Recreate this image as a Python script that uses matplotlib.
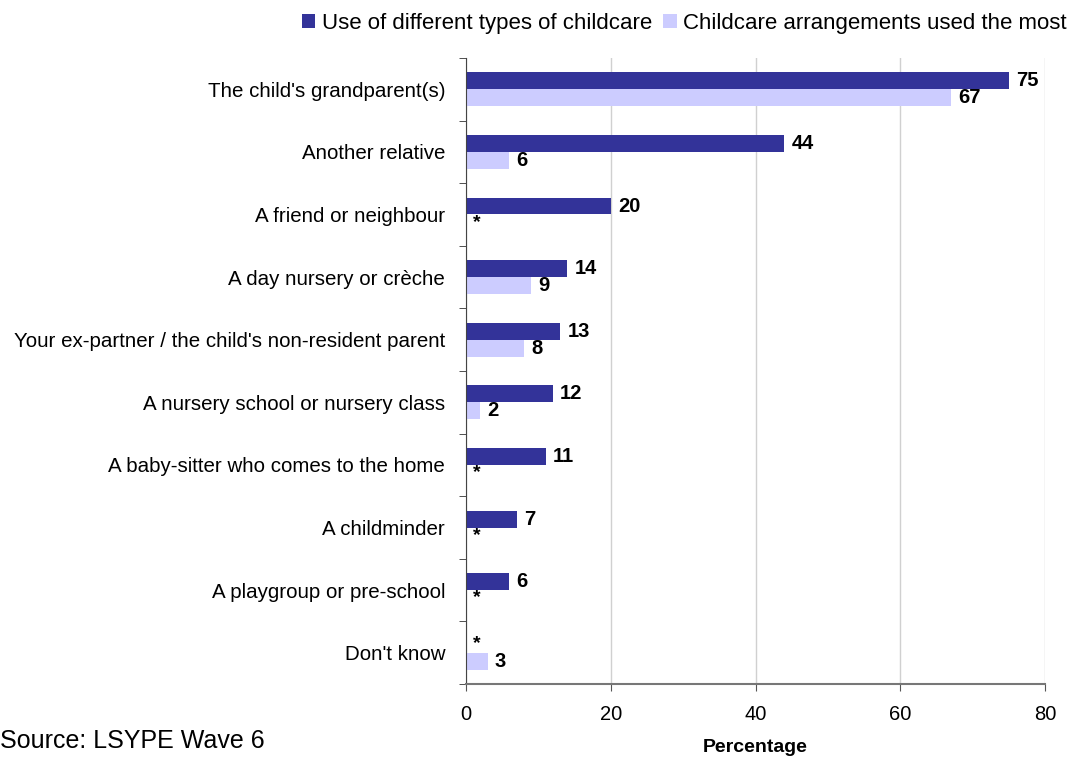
import numpy as np
import matplotlib.pyplot as plt

plt.rcParams['font.family'] = ['Liberation Sans', 'DejaVu Sans']

# categorias e percentuais (None = valor suprimido, mostrado como *)
categorias = ["The child's grandparent(s)", "Another relative", "A friend or neighbour",
              "A day nursery or crèche", "Your ex-partner / the child's non-resident parent",
              "A nursery school or nursery class", "A baby-sitter who comes to the home",
              "A childminder", "A playgroup or pre-school", "Don't know"]
uso_tipos = [75, 44, 20, 14, 13, 12, 11, 7, 6, None]
uso_mais = [67, 6, None, 9, 8, 2, None, None, None, 3]
nomes_series = ['Use of different types of childcare', 'Childcare arrangements used the most']
cores = ['#333399', '#CCCCFF']

fig = plt.figure(figsize=(10.76, 7.6), dpi=100)
ax = fig.add_axes([466/1076, 1 - 684/760, 579/1076, 626/760])

y = np.arange(len(categorias))
alt = 0.27
for serie, desloc, cor, nome in [(uso_tipos, -alt/2, cores[0], nomes_series[0]),
                                 (uso_mais, alt/2, cores[1], nomes_series[1])]:
    vals = np.array([0 if v is None else v for v in serie], dtype=float)
    ax.barh(y + desloc, vals, height=alt, color=cor, label=nome, zorder=2)
    for yi, v in zip(y + desloc, serie):
        if v is None:
            ax.text(1.0, yi - 0.01, '*', ha='left', va='center', fontsize=14, fontweight='bold')
        else:
            ax.text(v + 1.0, yi, str(v), ha='left', va='center', fontsize=14.5, fontweight='bold')

ax.set_ylim(len(categorias) - 0.5, -0.5)
ax.set_xlim(0, 80)
ax.set_xticks([0, 20, 40, 60, 80])
ax.set_yticks(y)
ax.set_yticklabels(categorias, fontsize=14.8)
ax.tick_params(axis='y', length=0, pad=15)
ax.set_yticks(np.arange(len(categorias) + 1) - 0.5, minor=True)
ax.tick_params(axis='y', which='minor', length=5, color='#333333')
ax.tick_params(axis='x', labelsize=14.5, length=5, color='#555555', pad=10)
ax.grid(axis='x', color='#d0d0d0', linewidth=1, zorder=0)
for lado in ['top', 'right']:
    ax.spines[lado].set_visible(False)
ax.spines['left'].set_color('#444444')
ax.spines['bottom'].set_color('#777777')
ax.spines['bottom'].set_linewidth(1.5)

ax.set_xlabel('Percentage', fontsize=14, fontweight='bold', labelpad=11)

fig.legend(loc='upper right', bbox_to_anchor=(1.0, 0.995), ncol=2, frameon=False,
           fontsize=16, handlelength=0.6, handleheight=0.6, handletextpad=0.3,
           columnspacing=0.5, borderaxespad=0)
fig.text(0.0, 1 - 741/760, 'Source: LSYPE Wave 6', fontsize=18, va='center', ha='left')

fig.savefig('out.png', dpi=100)
